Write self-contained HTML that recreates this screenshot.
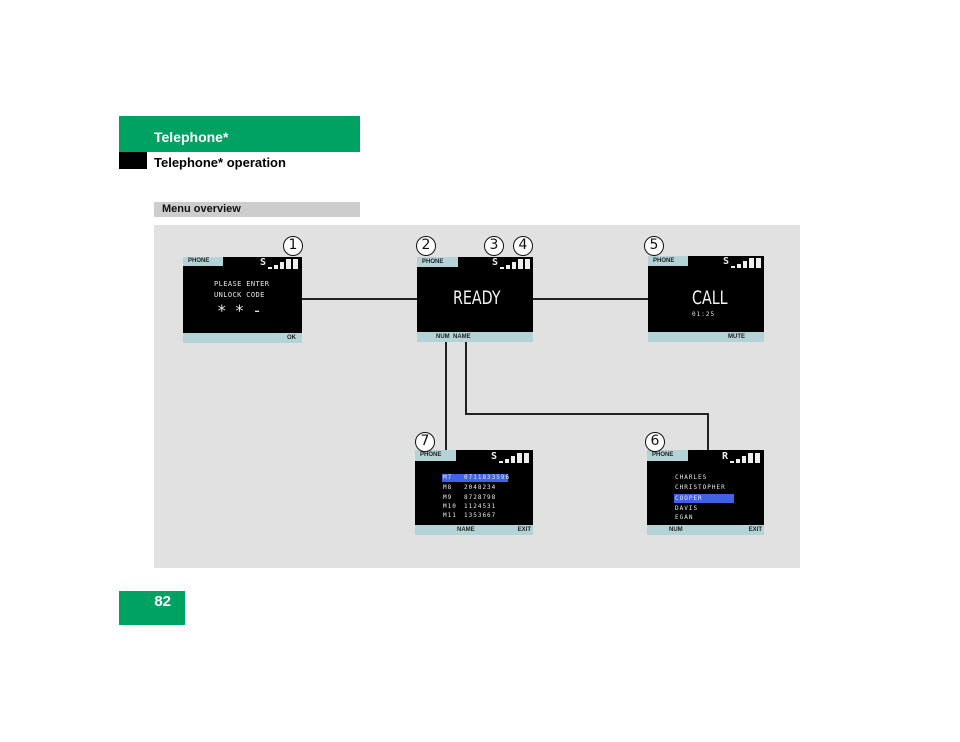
<!DOCTYPE html>
<html><head><meta charset="utf-8"><style>
*{margin:0;padding:0;box-sizing:border-box}
body{width:960px;height:742px;background:#fff;position:relative;overflow:hidden;font-family:"Liberation Sans",sans-serif}
.a{position:absolute}
.scr{position:absolute;background:#000}
.tab{position:absolute;left:0;top:0;background:#b3d3d6;color:#222;font:bold 6px "Liberation Sans",sans-serif;padding-left:5px;line-height:10px}
.bar{position:absolute;left:0;right:0;bottom:0;height:10px;background:#b3d3d6;color:#222;font:bold 6px "Liberation Sans",sans-serif;line-height:10px}
.bar span{position:absolute;top:0}
.sig{position:absolute;top:1px;height:11px;width:40px}
.sig .s{position:absolute;left:0;top:-1px;color:#eee;font:bold 10px "DejaVu Sans Mono",monospace;line-height:12px}
.sig i{position:absolute;bottom:0;background:#eee}
.t{position:absolute;color:#e8e8e8;font:7px "DejaVu Sans Mono",monospace;letter-spacing:1.3px;white-space:nowrap}
.c{position:absolute;width:20px;height:20px;border:1.5px solid #111;border-radius:50%;background:#fff;text-align:center;font:14px "DejaVu Sans",sans-serif;line-height:17px;color:#111}
.ln{position:absolute;background:#222}
.big{position:absolute;color:#f4f4f4;font:19px "DejaVu Sans",sans-serif;line-height:22px;transform:scaleX(0.75);transform-origin:left;white-space:nowrap}
</style></head><body>
<!-- header -->
<div class="a" style="left:119px;top:116px;width:241px;height:36px;background:#00a264"></div>
<div class="a" style="left:154px;top:129px;color:#fff;font:bold 14px 'Liberation Sans',sans-serif">Telephone*</div>
<div class="a" style="left:119px;top:152px;width:28px;height:17px;background:#000"></div>
<div class="a" style="left:154px;top:155px;color:#000;font:bold 13px 'Liberation Sans',sans-serif">Telephone* operation</div>
<div class="a" style="left:154px;top:202px;width:206px;height:15px;background:#cdcdcd"></div>
<div class="a" style="left:162px;top:203px;color:#111;font:bold 11px 'Liberation Sans',sans-serif">Menu overview</div>
<!-- panel -->
<div class="a" style="left:154px;top:225px;width:646px;height:343px;background:#e1e1e1"></div>
<!-- page number -->
<div class="a" style="left:119px;top:591px;width:66px;height:34px;background:#00a264"></div>
<div class="a" style="left:119px;top:593px;width:52px;text-align:right;color:#fff;font:bold 15px 'Liberation Sans',sans-serif">82</div>

<!-- connectors -->
<div class="ln" style="left:302px;top:298px;width:116px;height:2px"></div>
<div class="ln" style="left:533px;top:298px;width:116px;height:2px"></div>
<div class="ln" style="left:445px;top:342px;width:2px;height:108px"></div>
<div class="ln" style="left:465px;top:342px;width:2px;height:73px"></div>
<div class="ln" style="left:465px;top:413px;width:244px;height:2px"></div>
<div class="ln" style="left:707px;top:413px;width:2px;height:37px"></div>

<!-- screen 1 -->
<div class="scr" style="left:183px;top:257px;width:119px;height:86px">
 <div class="tab" style="width:40px;height:9px;line-height:9px">PHONE</div>
 <div class="sig" style="left:77px"><span class="s">S</span><i style="left:8px;width:4px;height:2px"></i><i style="left:14px;width:4px;height:4px"></i><i style="left:20px;width:4px;height:7px"></i><i style="left:26px;width:5px;height:10px"></i><i style="left:33px;width:5px;height:10px"></i></div>
 <div class="t" style="left:31px;top:23px;letter-spacing:0.4px">PLEASE ENTER</div>
 <div class="t" style="left:31px;top:34px;letter-spacing:0.4px">UNLOCK CODE</div>
 <div class="t" style="left:34px;top:44px;font-size:16px;letter-spacing:8px">**-</div>
 <div class="bar"><span style="right:6px">OK</span></div>
</div>
<!-- screen 2 -->
<div class="scr" style="left:417px;top:257px;width:116px;height:85px">
 <div class="tab" style="width:41px;height:10px">PHONE</div>
 <div class="sig" style="left:75px"><span class="s">S</span><i style="left:8px;width:4px;height:2px"></i><i style="left:14px;width:4px;height:4px"></i><i style="left:20px;width:4px;height:7px"></i><i style="left:26px;width:5px;height:10px"></i><i style="left:33px;width:5px;height:10px"></i></div>
 <div class="big" style="left:36px;top:30px">READY</div>
 <div class="bar"><span style="left:19px">NUM&nbsp;&nbsp;NAME</span></div>
</div>
<!-- screen 5 -->
<div class="scr" style="left:648px;top:256px;width:116px;height:86px">
 <div class="tab" style="width:40px;height:10px">PHONE</div>
 <div class="sig" style="left:75px"><span class="s">S</span><i style="left:8px;width:4px;height:2px"></i><i style="left:14px;width:4px;height:4px"></i><i style="left:20px;width:4px;height:7px"></i><i style="left:26px;width:5px;height:10px"></i><i style="left:33px;width:5px;height:10px"></i></div>
 <div class="big" style="left:44px;top:31px">CALL</div>
 <div class="t" style="left:44px;top:55px;font-size:6px;letter-spacing:1px">01:25</div>
 <div class="bar"><span style="left:80px">MUTE</span></div>
</div>
<!-- screen 7 -->
<div class="scr" style="left:415px;top:450px;width:118px;height:85px">
 <div class="tab" style="width:41px;height:11px;line-height:11px">PHONE</div>
 <div class="sig" style="left:76px;top:2px"><span class="s">S</span><i style="left:8px;width:4px;height:2px"></i><i style="left:14px;width:4px;height:4px"></i><i style="left:20px;width:4px;height:7px"></i><i style="left:26px;width:5px;height:10px"></i><i style="left:33px;width:5px;height:10px"></i></div>
 <div class="a" style="left:27px;top:24px;width:66px;height:8px;background:#3f63e6"></div>
 <div class="t" style="left:28px;top:24px;font-size:6px;line-height:8px;letter-spacing:1px">M7</div><div class="t" style="left:49px;top:24px;font-size:6px;line-height:8px;letter-spacing:1px">0711833596</div>
 <div class="t" style="left:28px;top:34px;font-size:6px;line-height:8px;letter-spacing:1px">M8</div><div class="t" style="left:49px;top:34px;font-size:6px;line-height:8px;letter-spacing:1px">2048234</div>
 <div class="t" style="left:28px;top:44px;font-size:6px;line-height:8px;letter-spacing:1px">M9</div><div class="t" style="left:49px;top:44px;font-size:6px;line-height:8px;letter-spacing:1px">8728798</div>
 <div class="t" style="left:28px;top:53px;font-size:6px;line-height:8px;letter-spacing:1px">M10</div><div class="t" style="left:49px;top:53px;font-size:6px;line-height:8px;letter-spacing:1px">1124531</div>
 <div class="t" style="left:28px;top:62px;font-size:6px;line-height:8px;letter-spacing:1px">M11</div><div class="t" style="left:49px;top:62px;font-size:6px;line-height:8px;letter-spacing:1px">1353667</div>
 <div class="bar"><span style="left:42px">NAME</span><span style="right:2px">EXIT</span></div>
</div>
<!-- screen 6 -->
<div class="scr" style="left:647px;top:450px;width:117px;height:85px">
 <div class="tab" style="width:41px;height:11px;line-height:11px">PHONE</div>
 <div class="sig" style="left:75px;top:2px"><span class="s">R</span><i style="left:8px;width:4px;height:2px"></i><i style="left:14px;width:4px;height:4px"></i><i style="left:20px;width:4px;height:7px"></i><i style="left:26px;width:5px;height:10px"></i><i style="left:33px;width:5px;height:10px"></i></div>
 <div class="a" style="left:27px;top:44px;width:60px;height:9px;background:#3f63e6"></div>
 <div class="t" style="left:28px;top:24px;font-size:6px;line-height:8px;letter-spacing:1px">CHARLES</div>
 <div class="t" style="left:28px;top:34px;font-size:6px;line-height:8px;letter-spacing:1px">CHRISTOPHER</div>
 <div class="t" style="left:28px;top:45px;font-size:6px;line-height:8px;letter-spacing:1px">COOPER</div>
 <div class="t" style="left:28px;top:55px;font-size:6px;line-height:8px;letter-spacing:1px">DAVIS</div>
 <div class="t" style="left:28px;top:64px;font-size:6px;line-height:8px;letter-spacing:1px">EGAN</div>
 <div class="bar"><span style="left:22px">NUM</span><span style="right:2px">EXIT</span></div>
</div>

<!-- callout circles -->
<div class="c" style="left:283px;top:236px">1</div>
<div class="c" style="left:416px;top:236px">2</div>
<div class="c" style="left:484px;top:236px">3</div>
<div class="c" style="left:513px;top:236px">4</div>
<div class="c" style="left:644px;top:236px">5</div>
<div class="c" style="left:415px;top:432px">7</div>
<div class="c" style="left:645px;top:432px">6</div>
</body></html>
